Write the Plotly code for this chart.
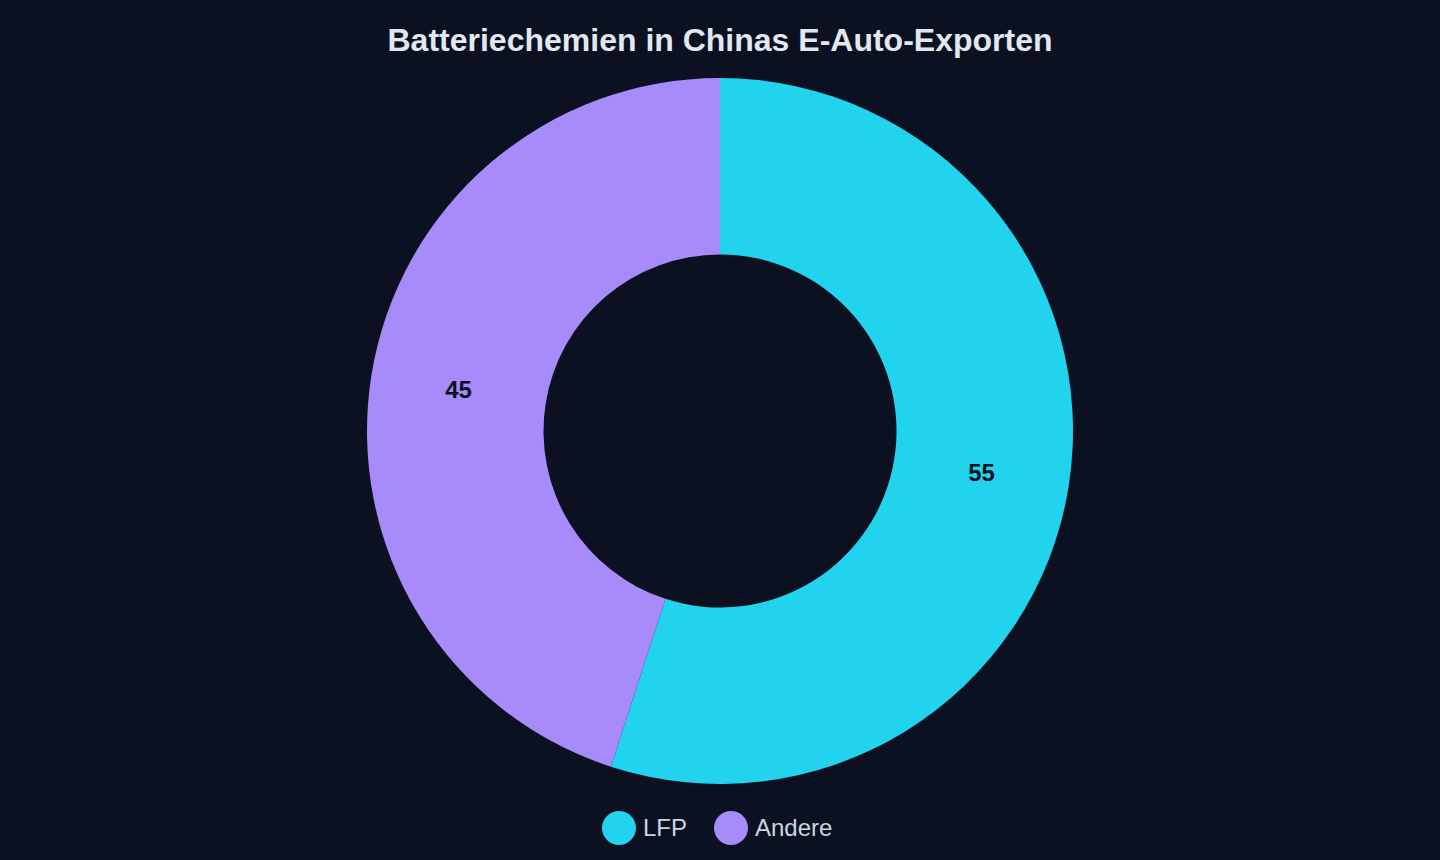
import plotly.graph_objects as go

labels = ["LFP", "Andere"]
values = [55, 45]
colors = ["#22d3ee", "#a78bfa"]
title = "Batteriechemien in Chinas E-Auto-Exporten"

W, H = 1440, 860
BG = "#0b1120"
FONT = "Liberation Sans, Arial, sans-serif"

fig = go.Figure()
fig.add_trace(go.Pie(
    labels=labels,
    values=values,
    hole=0.5,
    sort=False,
    direction="clockwise",
    rotation=0,
    marker=dict(colors=colors, line=dict(width=0)),
    textinfo="value",
    textposition="inside",
    insidetextorientation="horizontal",
    textfont=dict(family=FONT, size=24, color=BG, weight="bold"),
    domain=dict(x=[0, 1], y=[1 - 784 / H, 1 - 78 / H]),
    showlegend=False,
    hoverinfo="label+value",
))

# custom circular legend
legend_x = [619, 731]
shapes = []
annotations = []
for lab, col, cx in zip(labels, colors, legend_x):
    shapes.append(dict(
        type="circle", xref="paper", yref="paper",
        xsizemode="pixel", ysizemode="pixel",
        xanchor=cx / W, yanchor=1 - 828 / H,
        x0=-17, x1=17, y0=-17, y1=17,
        fillcolor=col, line=dict(width=0),
    ))
    annotations.append(dict(
        text=lab, xref="paper", yref="paper",
        x=(cx + 22) / W, y=1 - 827 / H,
        xanchor="left", yanchor="middle", showarrow=False,
        font=dict(family=FONT, size=24, color="#cbd5e1"),
    ))

fig.update_layout(
    width=W, height=H,
    paper_bgcolor=BG, plot_bgcolor=BG,
    margin=dict(l=0, r=0, t=0, b=0),
    title=dict(
        text=title, x=0.5, xanchor="center", y=1 - 40 / H, yanchor="middle",
        font=dict(family=FONT, size=32, color="#e2e8f0", weight="bold"),
    ),
    shapes=shapes,
    annotations=annotations,
)

fig.write_html("out.html")
